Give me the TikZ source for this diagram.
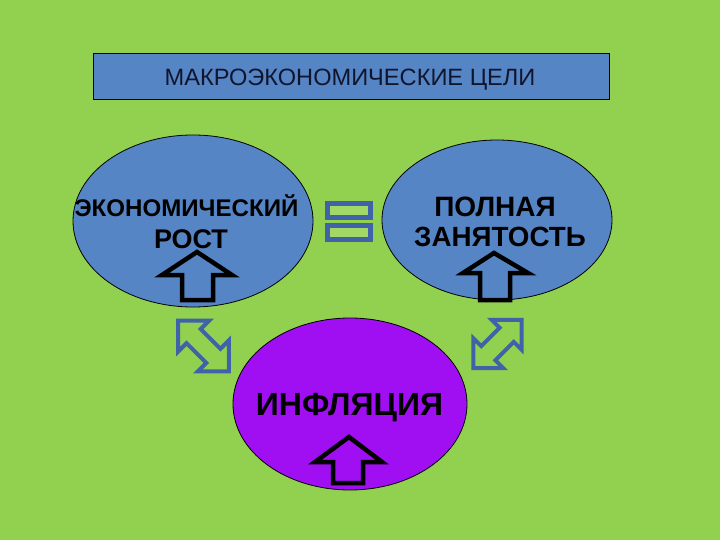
\documentclass[tikz,border=0pt]{standalone}
\usepackage{fontspec}
\setmainfont{Liberation Sans}
\usetikzlibrary{shapes.geometric}
\definecolor{bggreen}{HTML}{92D050}
\definecolor{lightgreen}{HTML}{A2D865}
\definecolor{ellblue}{HTML}{5585C5}
\definecolor{arrblue}{HTML}{3F62A8}
\definecolor{purp}{HTML}{A00EF2}
\definecolor{titletext}{HTML}{10152E}
\tikzset{
  ell/.style={ellipse, draw=black, line width=0.8pt, inner sep=0pt},
  lbl/.style={font=\bfseries, text=black, inner sep=0pt, anchor=base},
  uparr/.style={draw=black, line width=4.5pt, line join=miter},
  dblarr/.style={draw=arrblue, line width=4pt, line join=miter},
  eqbar/.style={draw=arrblue, fill=lightgreen, line width=5pt}
}
\begin{document}
\begin{tikzpicture}[x=1pt,y=-1pt]
\useasboundingbox (0,0) rectangle (720,540);
\fill[bggreen] (0,0) rectangle (720,540);
% title
\node[draw=black, fill=ellblue, line width=0.8pt, minimum width=516pt, minimum height=46pt, inner sep=0pt] (title) at (351,76) {};
\node[font=\fontsize{23.6}{25}\selectfont, text=titletext, anchor=base] (titletxt) at (350,86) {МАКРОЭКОНОМИЧЕСКИЕ ЦЕЛИ};
% ellipses
\node[ell, fill=ellblue, minimum width=240pt, minimum height=172pt] (growth) at (193,221) {};
\node[ell, fill=ellblue, minimum width=230pt, minimum height=160pt] (employ) at (497,220) {};
\node[ell, fill=purp, minimum width=234pt, minimum height=172pt] (infl) at (350,404) {};
% labels
\node[lbl, font=\bfseries\fontsize{24.1}{26}\selectfont] (t1) at (186.5,217) {ЭКОНОМИЧЕСКИЙ};
\node[lbl, font=\bfseries\fontsize{27}{29}\selectfont] (t2) at (191,248) {РОСТ};
\node[lbl, font=\bfseries\fontsize{28}{30}\selectfont] (t3) at (495,217) {ПОЛНАЯ};
\node[lbl, font=\bfseries\fontsize{27.8}{30}\selectfont] (t4) at (500,247) {ЗАНЯТОСТЬ};
\node[lbl, font=\bfseries\fontsize{32}{34}\selectfont] (t5) at (349.5,415) {ИНФЛЯЦИЯ};
% up arrows
\draw[uparr] (197,252) -- (232,275) -- (213,275) -- (213,300) -- (182,300) -- (182,275) -- (162,275) -- cycle;
\draw[uparr] (494,253) -- (528,273) -- (510,273) -- (510,300) -- (480,300) -- (480,273) -- (463,273) -- cycle;
\draw[uparr] (349,437) -- (382,462) -- (363,462) -- (363,483) -- (333,483) -- (333,462) -- (315,462) -- cycle;
% equal sign
\draw[eqbar] (327.5,203.5) rectangle (370.5,217.5);
\draw[eqbar] (327.5,225.5) rectangle (370.5,239.5);
% double arrows
\begin{scope}[shift={(203.5,346)}, rotate=-45]
\draw[dblarr] (-36,0) -- (-14,-22) -- (-14,-10) -- (14,-10) -- (14,-22) -- (36,0) -- (14,22) -- (14,10) -- (-14,10) -- (-14,22) -- cycle;
\end{scope}
\begin{scope}[shift={(497.5,344)}, rotate=45]
\draw[dblarr] (-34,0) -- (-13,-21) -- (-13,-10) -- (13,-10) -- (13,-21) -- (34,0) -- (13,21) -- (13,10) -- (-13,10) -- (-13,21) -- cycle;
\end{scope}
\end{tikzpicture}
\end{document}
